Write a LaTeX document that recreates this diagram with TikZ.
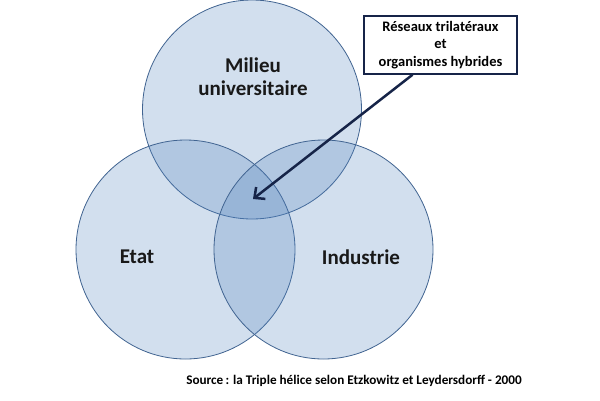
\documentclass[tikz,border=0pt]{standalone}
\usepackage{fontspec}
\setmainfont{Carlito}
\usetikzlibrary{arrows.meta}
\definecolor{bleu}{RGB}{79,129,189}
\definecolor{bord}{RGB}{65,100,145}
\definecolor{marine}{RGB}{22,36,72}
\begin{document}
\begin{tikzpicture}[x=1pt,y=-1pt,
  cercle/.style={circle,draw=bord,line width=0.8pt,fill=bleu,fill opacity=0.25,minimum size=219pt,inner sep=0pt},
  titre/.style={font=\fontsize{21}{23}\selectfont\bfseries,align=center,text=black!90},
  boite/.style={draw=marine,line width=1.5pt,fill=white,minimum width=153pt,minimum height=58pt,inner sep=0pt,align=center,font=\fontsize{14.5}{17.5}\selectfont\bfseries},
  fleche/.style={draw=marine,line width=2.5pt,-{Straight Barb[length=8pt,width=15pt]}}]
\useasboundingbox (0,0) rectangle (600,400);
\fill[white] (0,0) rectangle (600,400);

% les trois spheres
\node[cercle] (univ) at (252,109.5) {};
\node[cercle] (etat) at (185.5,249.5) {};
\node[cercle] (indus) at (323.5,249.5) {};

\node[titre] (lunivs) at (253,77) {Milieu\\universitaire};
\node[titre] (letat) at (137,257) {Etat};
\node[titre] (lindus) at (361,257) {Industrie};

% zone commune
\coordinate (centre) at (253,199);
\node[boite] (reseaux) at (440.5,45) {Réseaux trilatéraux\\et\\organismes hybrides};
\draw[fleche] ([xshift=-28pt]reseaux.south) -- (centre);

\node[font=\fontsize{13.2}{15}\selectfont\bfseries] (source) at (354,381) {Source\,: la Triple hélice selon Etzkowitz et Leydersdorff - 2000};
\end{tikzpicture}
\end{document}
